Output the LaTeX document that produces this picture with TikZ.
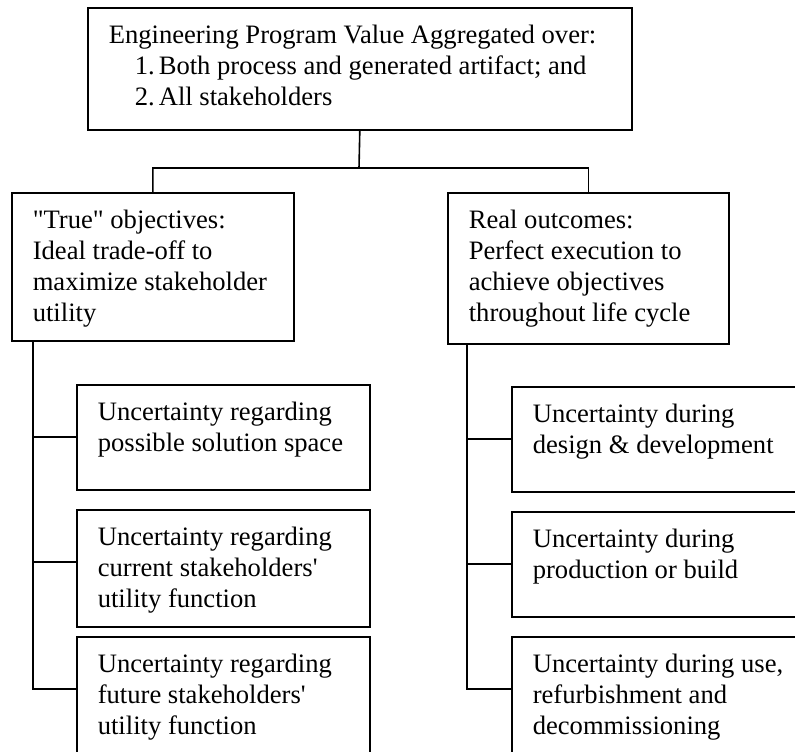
\documentclass[tikz,border=0pt]{standalone}
\usepackage{fontspec}
\setmainfont{Liberation Serif}
\tikzset{
	box/.style={draw,rectangle,anchor=north west,inner sep=0pt},
	txt/.style={anchor=north west,align=left,inner sep=0pt,xshift=10.5pt,yshift=-8.4pt,
		font=\fontsize{13.3}{15.5}\selectfont},
}
\newcommand{\numitem}[1]{\hspace*{13pt}\makebox[12pt][l]{#1}}
\begin{document}
\begin{tikzpicture}[x=0.5pt,y=-0.5pt,line width=0.8pt]
			\useasboundingbox (0,0) rectangle (795,751);
			\clip (0,0) rectangle (795,751);

			\draw (87,7) node (top)[box,minimum width=272pt,minimum height=61pt,
				label={[txt]north west:{Engineering Program Value Aggregated over:\\
				\numitem{1.}Both process and generated artifact; and\\
				\numitem{2.}All stakeholders}}]{};

			\draw (11,192) node (L)[box,minimum width=141pt,minimum height=74pt,
				label={[txt]north west:{\textquotedbl True\textquotedbl{} objectives:\\Ideal trade-off to\\maximize stakeholder\\utility}}]{};
			\draw (447,192) node (R)[box,minimum width=140.5pt,minimum height=75.5pt,
				label={[txt]north west:{Real outcomes:\\Perfect execution to\\achieve objectives\\throughout life cycle}}]{};

			\draw (76,384) node (L1)[box,minimum width=146.5pt,minimum height=52.5pt,
				label={[txt]north west:{Uncertainty regarding\\possible solution space}}]{};
			\draw (76,509) node (L2)[box,minimum width=146.5pt,minimum height=58.5pt,
				label={[txt]north west:{Uncertainty regarding\\current stakeholders\textquotesingle\\utility function}}]{};
			\draw (76,636) node (L3)[box,minimum width=146.5pt,minimum height=70pt,
				label={[txt]north west:{Uncertainty regarding\\future stakeholders\textquotesingle\\utility function}}]{};

			\draw (511,386) node (R1)[box,minimum width=146.5pt,minimum height=52.5pt,
				label={[txt]north west:{Uncertainty during\\design \& development}}]{};
			\draw (511,511) node (R2)[box,minimum width=146.5pt,minimum height=52.5pt,
				label={[txt]north west:{Uncertainty during\\production or build}}]{};
			\draw (511,636) node (R3)[box,minimum width=146.5pt,minimum height=70pt,
				label={[txt]north west:{Uncertainty during use,\\refurbishment and\\decommissioning}}]{};

			\coordinate (bus) at (359,168);
			\draw (top.south)--(bus) -| (L.north);
			\draw (bus) -| (R.north);

			\coordinate (sL) at ([xshift=11pt]L.south west);
			\coordinate (sR) at ([xshift=10pt]R.south west);
			\foreach \n in {L1,L2,L3}
				\draw (sL) |- ([yshift=-26.5pt]\n.north west);
			\foreach \n in {R1,R2,R3}
				\draw (sR) |- ([yshift=-26.5pt]\n.north west);
		\end{tikzpicture}
\end{document}
